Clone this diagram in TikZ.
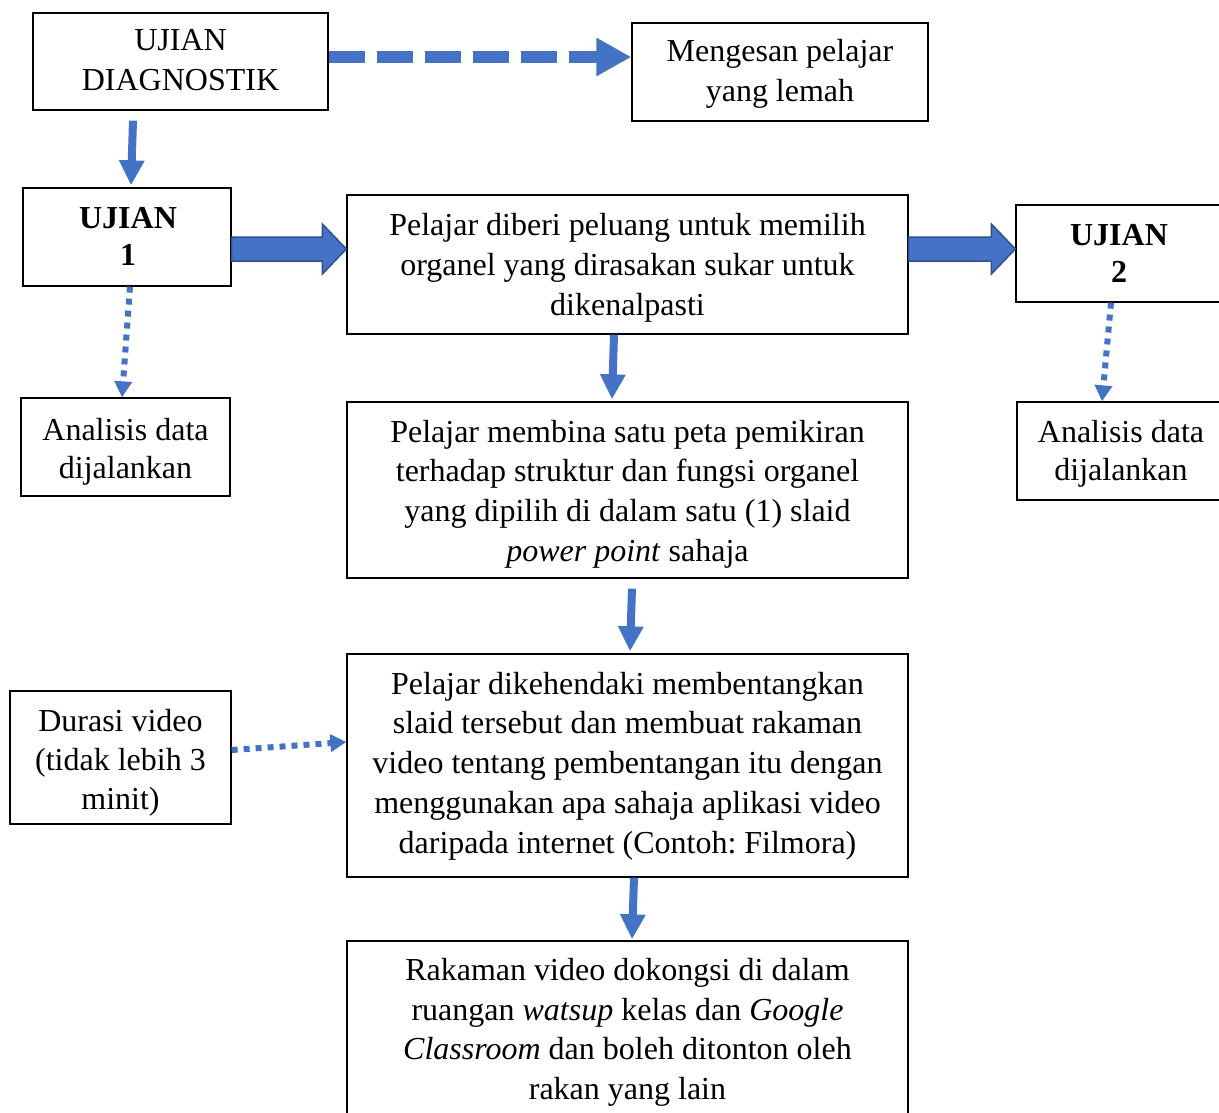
\documentclass[tikz,border=0pt]{standalone}
\usepackage{fontspec}
\setmainfont{Liberation Serif}
\usetikzlibrary{arrows.meta,calc}
\definecolor{ablue}{HTML}{4472C4}
\definecolor{dblue}{HTML}{2F528F}
\newcommand\linestack[2]{\vtop{\baselineskip=#1pt\lineskiplimit=-100pt\lineskip=0pt\halign{\hfil##\hfil\cr#2\crcr}}}
\begin{document}
\frenchspacing
\begin{tikzpicture}[x=1pt,y=-1pt,
  box/.style={draw=black, line width=1.3pt, inner sep=0pt},
  txt/.style={inner sep=0pt, anchor=base, font=\fontsize{32}{40}\selectfont\frenchspacing},
  btxt/.style={txt, font=\fontsize{32}{37}\selectfont\bfseries},
  solidarrow/.style={draw=ablue, line width=8pt, -{Triangle[length=25pt,width=24pt]}},
  dashedarrow/.style={draw=ablue, line width=12pt, dash pattern=on 36pt off 12pt,
    -{Triangle[length=35pt,width=36pt]}},
  dotarrow/.style={draw=ablue, line width=6pt, dash pattern=on 6pt off 6pt,
    -{Triangle[length=16pt,width=17pt]}},
  blockarrow/.style={fill=ablue, draw=dblue, line width=1.5pt, line join=miter}
]
\useasboundingbox (0,0) rectangle (1219,1113);
\clip (0,0) rectangle (1219,1113);

% boxes
\node[box, minimum width=295pt, minimum height=97pt] (dg) at (180.5,61.5) {};
\node[box, minimum width=296pt, minimum height=98pt] (mg) at (780,72) {};
\node[box, minimum width=208pt, minimum height=98pt] (u1) at (127,237) {};
\node[box, minimum width=561pt, minimum height=139pt] (m1) at (627.5,264.5) {};
\node[box, minimum width=206pt, minimum height=97pt] (u2) at (1119,253.5) {};
\node[box, minimum width=209pt, minimum height=98pt] (l1) at (125.5,447) {};
\node[box, minimum width=561pt, minimum height=176pt] (m2) at (627.5,490) {};
\node[box, minimum width=206pt, minimum height=98pt] (r2) at (1120,451) {};
\node[box, minimum width=221pt, minimum height=133pt] (dv) at (120.5,757.5) {};
\node[box, minimum width=561pt, minimum height=223pt] (m3) at (627.5,765.5) {};
\node[box, minimum width=561pt, minimum height=179pt] (m4) at (627.5,1030.5) {};

% texts (anchored at first baseline)
\node[txt] (dgt) at (dg.center |- 0,51) {\linestack{40}{UJIAN\cr DIAGNOSTIK}};
\node[txt] (mgt) at (mg.center |- 0,61.5) {\linestack{40}{Mengesan pelajar\cr yang lemah}};
\node[btxt] (u1t) at ([xshift=1pt]u1.center |- 0,228) {\linestack{37}{UJIAN\cr 1}};
\node[txt] (m1t) at (m1.center |- 0,236) {\linestack{39.6}{Pelajar diberi peluang untuk memilih\cr organel yang dirasakan sukar untuk\cr dikenalpasti}};
\node[btxt] (u2t) at (u2.center |- 0,245) {\linestack{37}{UJIAN\cr 2}};
\node[txt] (l1t) at (l1.center |- 0,440) {\linestack{38.5}{Analisis data\cr dijalankan}};
\node[txt] (m2t) at (m2.center |- 0,442) {\linestack{39.7}{Pelajar membina satu peta pemikiran\cr terhadap struktur dan fungsi organel\cr yang dipilih di dalam satu (1) slaid\cr \textit{power point} sahaja}};
\node[txt] (r2t) at ([xshift=1pt]r2.center |- 0,442) {\linestack{38.5}{Analisis data\cr dijalankan}};
\node[txt] (dvt) at (dv.center |- 0,731) {\linestack{39}{Durasi video\cr (tidak lebih 3\cr minit)}};
\node[txt] (m3t) at (m3.center |- 0,694) {\linestack{39.75}{Pelajar dikehendaki membentangkan\cr slaid tersebut dan membuat rakaman\cr video tentang pembentangan itu dengan\cr menggunakan apa sahaja aplikasi video\cr daripada internet (Contoh: Filmora)}};
\node[txt] (m4t) at (m4.center |- 0,980.5) {\linestack{39.6}{Rakaman video dokongsi di dalam\cr ruangan \textit{watsup} kelas dan \textit{Google}\cr \textit{Classroom} dan boleh ditonton oleh\cr rakan yang lain}};

% connectors
\draw[dashedarrow] ([yshift=4.5pt]dg.east) -- ([yshift=15pt]mg.west);
\draw[solidarrow] ([xshift=-47.5pt,yshift=-10pt]dg.south) -- ([xshift=4pt,yshift=2pt]u1.north);
\draw[dotarrow] ([xshift=3pt]u1.south) -- ([xshift=-3.5pt]l1.north);
\draw[dotarrow] ([xshift=-8pt]u2.south) -- ([xshift=-18pt]r2.north);
\draw[dotarrow] ([yshift=7.5pt]dv.east) -- ([yshift=23.5pt]m3.west);
\draw[solidarrow] ([xshift=-13.5pt]m1.south) -- ([xshift=-15.5pt,yshift=2pt]m2.north);
\draw[solidarrow] ([xshift=4.5pt,yshift=-10pt]m2.south) -- ([xshift=2.5pt,yshift=2pt]m3.north);
\draw[solidarrow] ([xshift=6.5pt]m3.south) -- ([xshift=4.5pt,yshift=1pt]m4.north);

% block arrows
\draw[blockarrow] (u1.east) -- ([xshift=-24pt,yshift=27.5pt]m1.west)
  -- ([xshift=-24pt,yshift=40.5pt]m1.west) -- ([yshift=15.5pt]m1.west)
  -- ([xshift=-24pt,yshift=-9.5pt]m1.west) -- ([xshift=-24pt,yshift=3.5pt]m1.west)
  -- ([yshift=-24pt]u1.east) -- cycle;
\draw[blockarrow] ([yshift=27.5pt]m1.east) -- ([xshift=-24pt,yshift=16.5pt]u2.west)
  -- ([xshift=-24pt,yshift=29.5pt]u2.west) -- ([yshift=4.5pt]u2.west)
  -- ([xshift=-24pt,yshift=-20.5pt]u2.west) -- ([xshift=-24pt,yshift=-7.5pt]u2.west)
  -- ([yshift=3.5pt]m1.east) -- cycle;
\end{tikzpicture}
\end{document}
